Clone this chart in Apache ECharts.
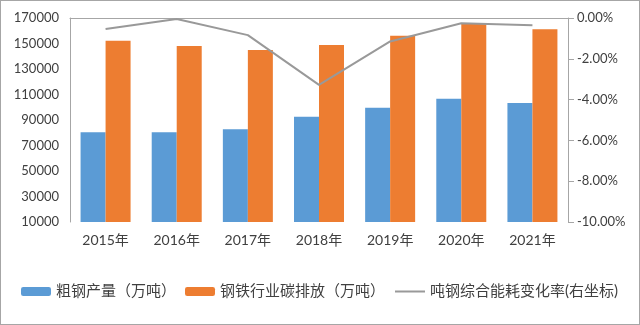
<!DOCTYPE html>
<html>
<head>
<meta charset="utf-8">
<script src="https://cdn.jsdelivr.net/npm/echarts@6/dist/echarts.min.js"></script>
<style>
  html, body { margin: 0; padding: 0; background: #fff; }
  #chart { width: 638px; height: 323px; border: 1px solid #a6a6a6; background: #fff; }
</style>
</head>
<body>
<div id="chart"></div>
<script>
// Years on the category axis
const years = ['2015年', '2016年', '2017年', '2018年', '2019年', '2020年', '2021年'];
// Crude steel output (10k tonnes)
const crudeSteel = [80380, 80400, 82700, 92600, 99650, 106700, 103300];
// Steel industry carbon emissions (10k tonnes)
const carbonEmission = [152200, 148000, 144900, 148800, 156000, 165800, 161100];
// Change rate of comprehensive energy use per tonne of steel (%)
const energyChange = [-0.54, -0.05, -0.84, -3.28, -1.15, -0.26, -0.36];
// Left axis tick labels
const leftTicks = [10000, 30000, 50000, 70000, 90000, 110000, 130000, 150000, 170000];

const font = "Lato, 'Noto Sans CJK SC', sans-serif";
const textColor = '#404040';
const axisGray = '#a6a6a6';

const chart = echarts.init(document.getElementById('chart'));
chart.setOption({
  animation: false,
  textStyle: { fontFamily: font },
  grid: { left: 69, right: 71, top: 17, bottom: 102, containLabel: false },
  legend: {
    bottom: 20,
    left: 15,
    itemWidth: 30,
    itemHeight: 9,
    itemGap: 9,
    textStyle: { fontFamily: font, fontSize: 15, color: textColor },
    data: [
      { name: '粗钢产量（万吨）' },
      { name: '钢铁行业碳排放（万吨）' },
      {
        name: '吨钢综合能耗变化率(右坐标)',
        itemStyle: { color: 'rgba(0,0,0,0)', borderColor: 'rgba(0,0,0,0)', borderWidth: 0 },
        lineStyle: { color: '#999999', width: 2 }
      }
    ]
  },
  xAxis: {
    type: 'category',
    data: years,
    axisLine: { lineStyle: { color: axisGray, width: 1 } },
    axisTick: { show: false },
    axisLabel: { color: textColor, fontSize: 14, margin: 11 }
  },
  yAxis: [
    {
      type: 'value',
      min: 10000,
      max: 170000,
      axisLine: { show: true, lineStyle: { color: axisGray } },
      axisTick: { show: false },
      splitLine: { show: false },
      axisLabel: {
        customValues: leftTicks,
        color: textColor, fontSize: 13, margin: 11,
        formatter: v => String(v)
      }
    },
    {
      type: 'value',
      min: -10,
      max: 0,
      interval: 2,
      position: 'right',
      axisLine: { show: true, lineStyle: { color: axisGray } },
      axisTick: { show: true, inside: false, length: 6, lineStyle: { color: axisGray } },
      splitLine: { show: false },
      axisLabel: {
        color: textColor, fontSize: 13, margin: 9,
        formatter: v => v.toFixed(2) + '%'
      }
    }
  ],
  series: [
    {
      name: '粗钢产量（万吨）',
      type: 'bar',
      data: crudeSteel,
      barWidth: 25,
      barGap: '0%',
      itemStyle: { color: '#5b9bd5' }
    },
    {
      name: '钢铁行业碳排放（万吨）',
      type: 'bar',
      data: carbonEmission,
      barWidth: 25,
      barGap: '0%',
      itemStyle: { color: '#ed7d31' }
    },
    {
      name: '吨钢综合能耗变化率(右坐标)',
      type: 'line',
      yAxisIndex: 1,
      data: energyChange,
      symbol: 'none',
      lineStyle: { color: '#999999', width: 2 },
      itemStyle: { color: '#999999' }
    }
  ]
});
</script>
</body>
</html>
